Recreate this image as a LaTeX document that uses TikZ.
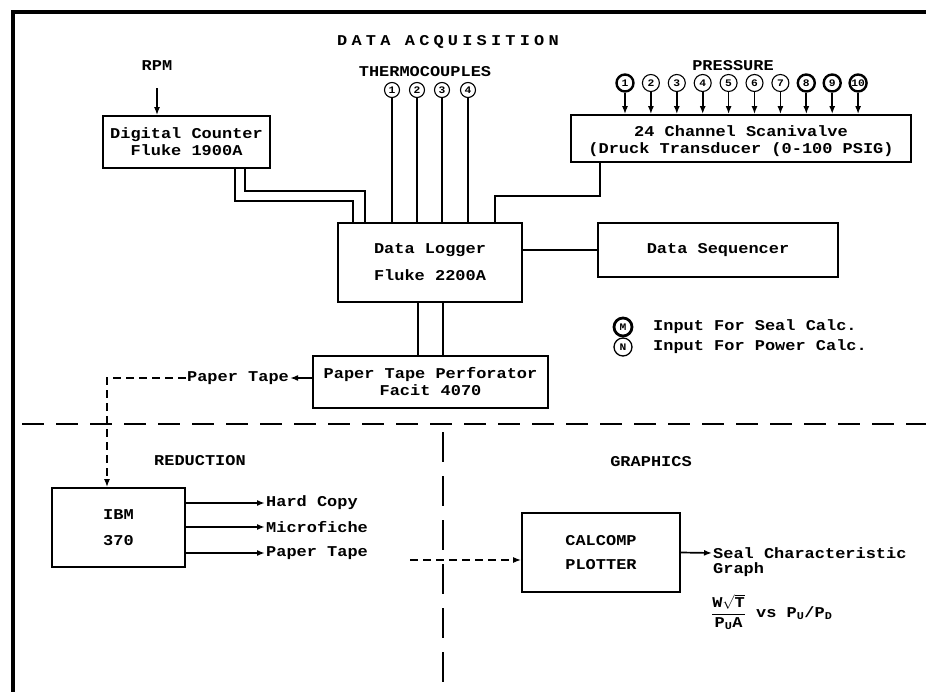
\documentclass[tikz,border=0pt]{standalone}
\usepackage{fontspec}
\usepackage{amsmath}
\usetikzlibrary{arrows.meta}
\newfontfamily\tw{Liberation Mono}[FakeStretch=1.13]
\newcommand\twf{\tw\bfseries\fontsize{15}{17}\selectfont}
\newcommand\twsmall{\tw\bfseries\fontsize{10}{10}\selectfont}
\begin{document}
\begin{tikzpicture}[x=1pt,y=-1pt,
  box/.style={draw, line width=1.7pt, inner sep=0pt, font=\twf, align=center},
  lbl/.style={font=\twf, inner sep=1pt},
  ln/.style={line width=1.7pt},
  arr/.style={ln, -{Latex[length=8pt,width=6pt]}},
  dashline/.style={ln, dash pattern=on 8pt off 5pt, -{Latex[length=8pt,width=6pt]}},
  tcirc/.style={circle, draw, line width=1.1pt, minimum size=15pt, inner sep=0pt, font=\twsmall},
  pcirc/.style={circle, draw, line width=1.1pt, minimum size=17pt, inner sep=0pt, font=\twsmall},
  pbold/.style={pcirc, line width=2.4pt},
]
\useasboundingbox (0,0) rectangle (926,692);
\fill[white] (0,0) rectangle (926,692);
% frame
\draw[line width=3.5pt] (13,692) -- (13,12) -- (926,12);

% headings
\node[lbl] (hda) at (448,42) {\addfontfeature{LetterSpace=28}DATA ACQUISITION};
\node[lbl] (rpm) at (157,66) {RPM};
\node[lbl] (thc) at (425,72) {THERMOCOUPLES};
\node[lbl] (prs) at (733,66) {PRESSURE};
\node[lbl] (red) at (200,461) {REDUCTION};
\node[lbl] (gra) at (651,462) {GRAPHICS};

% boxes
\node[box, minimum width=167pt, minimum height=52pt] (dc) at (186.5,142) {Digital Counter\\Fluke 1900A};
\node[box, minimum width=340pt, minimum height=47pt] (sv) at (741,138.5) {\raisebox{-3pt}[\height][\depth]{\begin{tabular}{@{}c@{}}24 Channel Scanivalve\\(Druck Transducer (0-100 PSIG)\end{tabular}}};
\node[box, minimum width=184pt, minimum height=79pt] (dl) at (430,262.5) {Data Logger\\[10pt]Fluke 2200A};
\node[box, minimum width=240pt, minimum height=54pt] (ds) at (718,250) {Data Sequencer};
\node[box, minimum width=235pt, minimum height=52pt] (ptp) at (430.5,382) {Paper Tape Perforator\\Facit 4070};
\node[box, minimum width=133pt, minimum height=79pt] (ibm) at (118.5,527.5) {IBM\\[9pt]370};
\node[box, minimum width=158pt, minimum height=79pt] (cal) at (601,552.5) {CALCOMP\\[7pt]PLOTTER};

% RPM input
\draw[arr, shorten <=16pt] (rpm.south) -- (rpm.south |- dc.north);

% thermocouples
\foreach \i/\x in {1/392,2/417,3/442,4/468}{
  \node[tcirc] (t\i) at (\x,90) {\i};
  \draw[ln] (t\i.south) -- (t\i.south |- dl.north);
}

% pressure taps
\foreach \i in {1,...,10}{
  \pgfmathsetmacro\px{625+25.9*(\i-1)}
  \ifnum\i=1 \def\cs{pbold}\else\ifnum\i>7 \def\cs{pbold}\else\def\cs{pcirc}\fi\fi
  \node[\cs] (p\i) at (\px,83) {\i};
  \draw[arr] (p\i.south) -- (p\i.south |- sv.north);
}

% digital counter to data logger
\draw[ln] ([xshift=58.5pt]dc.south) -- ++(0,22) -| ([xshift=-65pt]dl.north);
\draw[ln] ([xshift=48.5pt]dc.south) -- ++(0,32) -| ([xshift=-77pt]dl.north);
% scanivalve to data logger
\draw[ln] ([xshift=-141pt]sv.south) -- ++(0,33) -| ([xshift=65pt]dl.north);
% data logger to sequencer
\draw[ln] (ds.west -| dl.east) -- (ds.west);
% data logger to perforator
\draw[ln] ([xshift=-12pt]dl.south) -- ([xshift=-12pt]dl.south |- ptp.north);
\draw[ln] ([xshift=13pt]dl.south) -- ([xshift=13pt]dl.south |- ptp.north);

% legend
\node[circle, draw, line width=2.8pt, minimum size=18pt, inner sep=0pt, font=\twsmall] (lm) at (623,327) {M};
\node[circle, draw, line width=1.3pt, minimum size=18pt, inner sep=0pt, font=\twsmall] (lnn) at (623,347) {N};
\node[lbl, anchor=west] (lmt) at (652,327) {Input For Seal Calc.};
\node[lbl, anchor=west] (lnt) at (652,347) {Input For Power Calc.};

% paper tape output
\node[lbl] (ptl) at (238,378) {Paper Tape};
\draw[arr] (ptl.east -| ptp.west) -- (ptl.east);
\draw[dashline] (ptl.west) -| ([xshift=-11.5pt]ibm.north);

% dividers
\draw[ln, dash pattern=on 22pt off 12pt] (22,424) -- (926,424);
\draw[ln, dash pattern=on 30pt off 14pt] (443,432) -- (443,692);

% IBM outputs
\node[lbl, anchor=west] (hc) at (265,503) {Hard Copy};
\node[lbl, anchor=west] (mf) at (265,527) {Microfiche};
\node[lbl, anchor=west] (pt2) at (265,553) {Paper Tape};
\draw[arr] (hc.west -| ibm.east) -- (hc.west);
\draw[arr] (mf.west -| ibm.east) -- (mf.west);
\draw[arr] (pt2.west -| ibm.east) -- (pt2.west);

% to plotter
\coordinate (dst) at (410,560);
\draw[dashline] (dst) -- (dst -| cal.west);

% plotter output
\node[lbl, anchor=west] (seal) at (712,553) {Seal Characteristic};
\node[lbl, anchor=west] (grp) at (712,570) {Graph};
\draw[arr] (cal.east) -- (seal.west);
\node[lbl, anchor=west] (frm) at (710,612) {$\dfrac{\text{W}\sqrt{\text{T}}}{\text{P}_{\text{U}}\text{A}}$ vs P$_{\text{U}}$/P$_{\text{D}}$};
\end{tikzpicture}
\end{document}
